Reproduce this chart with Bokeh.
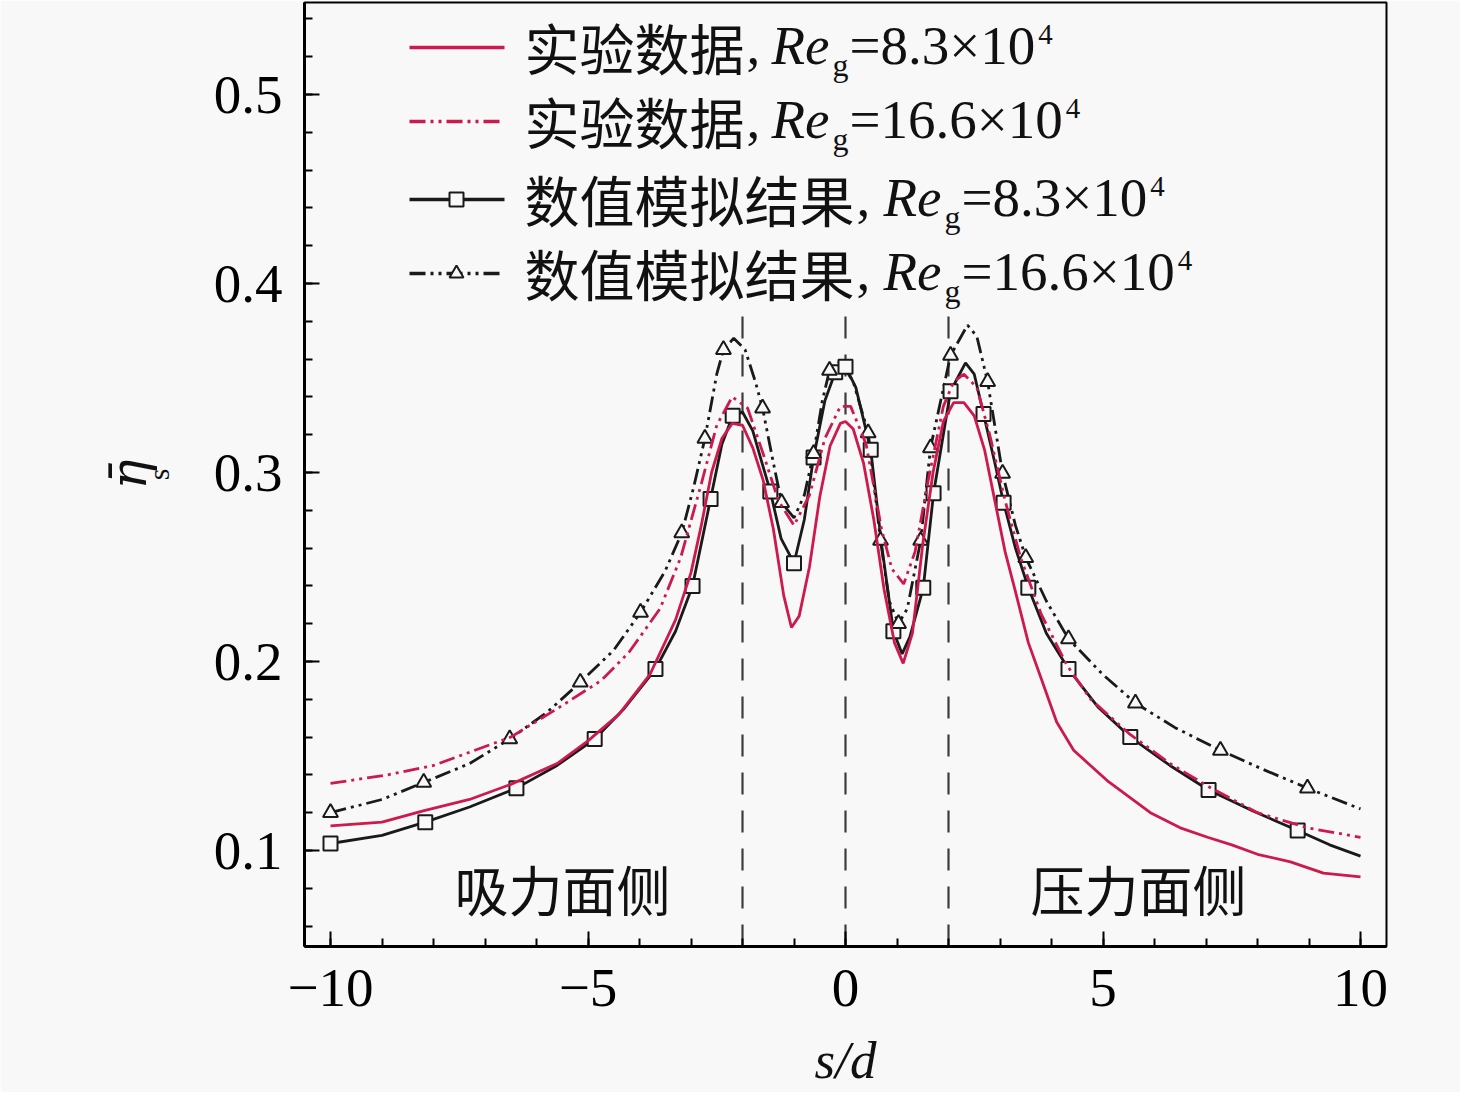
from bokeh.plotting import figure
from bokeh.models import Range1d, FixedTicker, Label, Title
from bokeh.embed import file_html
from bokeh.resources import INLINE

# ---------------- data ----------------
# experiment, Re_g = 8.3e4 (red solid)
exp83_s = [-10, -9.0, -8.2, -7.3, -6.5, -5.6, -5.0, -4.4, -3.8, -3.3, -3.0, -2.8, -2.6, -2.4,
           -2.2, -2.0, -1.8, -1.6, -1.4, -1.2, -1.05, -0.9, -0.7, -0.5, -0.3, -0.1, 0.0, 0.15,
           0.35, 0.55, 0.75, 0.95, 1.12, 1.3, 1.5, 1.7, 1.9, 2.1, 2.3, 2.5, 2.7, 2.9, 3.1, 3.3,
           3.55, 3.8, 4.1, 4.43, 5.08, 5.92, 6.5, 7.03, 7.5, 8.0, 8.64, 9.28, 10]
exp83_eta = [0.113, 0.115, 0.121, 0.127, 0.135, 0.146, 0.158, 0.172, 0.193, 0.222, 0.247, 0.272,
             0.300, 0.318, 0.326, 0.325, 0.313, 0.296, 0.270, 0.235, 0.218, 0.224, 0.250, 0.287,
             0.314, 0.326, 0.327, 0.323, 0.305, 0.275, 0.238, 0.210, 0.199, 0.215, 0.262, 0.300,
             0.327, 0.337, 0.337, 0.330, 0.312, 0.285, 0.258, 0.237, 0.210, 0.191, 0.168, 0.153,
             0.137, 0.120, 0.112, 0.107, 0.103, 0.098, 0.094, 0.088, 0.086]

# experiment, Re_g = 16.6e4 (red dash-dot-dot)
exp166_s = [-10, -8.9, -8.0, -7.4, -6.5, -5.6, -4.74, -4.2, -3.6, -3.2, -2.8, -2.5, -2.2, -1.9,
            -1.6, -1.3, -1.0, -0.7, -0.4, -0.1, 0.1, 0.4, 0.7, 0.9, 1.13, 1.35, 1.6, 1.9, 2.1,
            2.3, 2.55, 2.8, 3.1, 3.4, 3.8, 4.3, 4.76, 5.5, 6.3, 7.1, 8.0, 8.97, 10]
exp166_eta = [0.1355, 0.140, 0.145, 0.151, 0.160, 0.175, 0.190, 0.205, 0.228, 0.255, 0.294,
              0.325, 0.340, 0.334, 0.310, 0.285, 0.272, 0.288, 0.318, 0.335, 0.335, 0.315, 0.270,
              0.249, 0.241, 0.258, 0.295, 0.335, 0.348, 0.352, 0.345, 0.320, 0.285, 0.255,
              0.225, 0.198, 0.180, 0.162, 0.146, 0.133, 0.120, 0.112, 0.107]

# simulation, Re_g = 8.3e4 (black solid, squares)
num83_s = [-10, -9, -8.16, -7.3, -6.39, -5.6, -4.87, -4.3, -3.69, -3.3, -2.97, -2.62, -2.4,
           -2.19, -2.0, -1.8, -1.62, -1.46, -1.25, -1.0, -0.8, -0.62, -0.4, -0.2, 0.0, 0.2,
           0.49, 0.7, 0.93, 1.1, 1.25, 1.51, 1.71, 2.04, 2.33, 2.5, 2.68, 2.9, 3.07, 3.3, 3.55,
           3.9, 4.33, 4.9, 5.53, 6.3, 7.05, 7.9, 8.78, 9.4, 10]
num83_eta = [0.1037, 0.108, 0.115, 0.123, 0.133, 0.145, 0.159, 0.175, 0.196, 0.216, 0.240,
             0.286, 0.315, 0.330, 0.332, 0.322, 0.305, 0.290, 0.265, 0.252, 0.275, 0.308,
             0.338, 0.353, 0.356, 0.345, 0.312, 0.262, 0.216, 0.204, 0.213, 0.239, 0.289,
             0.343, 0.358, 0.352, 0.331, 0.305, 0.284, 0.260, 0.239, 0.215, 0.196, 0.176,
             0.160, 0.145, 0.132, 0.121, 0.1106, 0.103, 0.097]
num83_mark_s = [-10, -8.16, -6.39, -4.87, -3.69, -2.97, -2.62, -2.19, -1.46, -1.0, -0.62, -0.2,
                0.0, 0.49, 0.93, 1.51, 1.71, 2.04, 2.68, 3.07, 3.55, 4.33, 5.53, 7.05, 8.78]
num83_mark_eta = [0.1037, 0.115, 0.133, 0.159, 0.196, 0.240, 0.286, 0.330, 0.290, 0.252, 0.308,
                  0.353, 0.356, 0.312, 0.216, 0.239, 0.289, 0.343, 0.331, 0.284, 0.239, 0.196,
                  0.160, 0.132, 0.1106]

# simulation, Re_g = 16.6e4 (black dash-dot-dot, triangles)
num166_s = [-10, -9, -8.19, -7.3, -6.52, -5.8, -5.15, -4.5, -3.98, -3.5, -3.18, -2.95, -2.73,
            -2.5, -2.37, -2.17, -1.95, -1.75, -1.61, -1.4, -1.24, -1.0, -0.8, -0.62, -0.45,
            -0.31, -0.1, 0.15, 0.44, 0.68, 0.85, 1.03, 1.2, 1.46, 1.65, 2.04, 2.37, 2.55, 2.76,
            3.05, 3.3, 3.5, 3.9, 4.33, 5.0, 5.63, 6.4, 7.28, 8.1, 8.97, 10]
num166_eta = [0.120, 0.127, 0.136, 0.146, 0.159, 0.173, 0.189, 0.206, 0.226, 0.248, 0.268,
              0.292, 0.318, 0.352, 0.365, 0.371, 0.365, 0.348, 0.334, 0.305, 0.284, 0.276,
              0.288, 0.310, 0.338, 0.354, 0.359, 0.348, 0.321, 0.264, 0.232, 0.220, 0.228,
              0.264, 0.313, 0.362, 0.378, 0.372, 0.348, 0.2995, 0.272, 0.255, 0.232, 0.212,
              0.193, 0.178, 0.165, 0.153, 0.143, 0.133, 0.122]
num166_mark_s = [-10, -8.19, -6.52, -5.15, -3.98, -3.18, -2.73, -2.37, -1.61, -1.24, -0.62,
                 -0.31, 0.44, 0.68, 1.03, 1.46, 1.65, 2.04, 2.76, 3.05, 3.5, 4.33, 5.63, 7.28, 8.97]
num166_mark_eta = [0.120, 0.136, 0.159, 0.189, 0.226, 0.268, 0.318, 0.365, 0.334, 0.284, 0.310,
                   0.354, 0.321, 0.264, 0.220, 0.264, 0.313, 0.362, 0.348, 0.2995, 0.255, 0.212,
                   0.178, 0.153, 0.133]

divider_s = [-2, 0, 2]
x_ticks = [-10, -5, 0, 5, 10]
x_tick_labels = ["\u221210", "\u22125", "0", "5", "10"]
y_ticks = [0.1, 0.2, 0.3, 0.4, 0.5]
region_labels = ["吸力面侧", "压力面侧"]
legend_names = ["实验数据", "实验数据", "数值模拟结果", "数值模拟结果"]
legend_re = ["=8.3×10", "=16.6×10", "=8.3×10", "=16.6×10"]

# ---------------- styling ----------------
RED = "#cc1a4c"
BLACK = "#1a1a1a"
BG = "#f8f8f8"
SERIF = "Liberation Serif"
CJK = "Noto Sans CJK SC"
DASHDOT = "16 5 3 5 3 5"

# reference-pixel -> data helpers (layout only)
def X(px):
    return (px - 845) / 51.5

def Y(py):
    return 0.1 + (850 - py) / 1890.0

W, H = 1460, 1092
p = figure(width=W, height=H, output_backend="svg", toolbar_location=None,
           x_range=Range1d(X(304), X(1386)), y_range=Range1d(Y(946), Y(2)),
           min_border_left=304, min_border_right=W - 1386, min_border_top=2,
           min_border_bottom=H - 946)
p.background_fill_color = BG
p.border_fill_color = BG
p.outline_line_color = "black"
p.outline_line_width = 2
p.xgrid.visible = False
p.ygrid.visible = False

for ax in (p.xaxis[0], p.yaxis[0]):
    ax.axis_line_width = 3
    ax.axis_line_color = "black"
    ax.major_tick_in = 15
    ax.major_tick_out = 0
    ax.minor_tick_in = 8
    ax.minor_tick_out = 0
    ax.major_tick_line_width = 2
    ax.minor_tick_line_width = 2
    ax.major_label_text_font = SERIF
    ax.major_label_text_font_size = "55px"
    ax.major_label_text_color = "black"
    ax.axis_label_text_font = SERIF
    ax.axis_label_text_color = "#111111"

p.xaxis.ticker = FixedTicker(ticks=x_ticks, minor_ticks=list(range(-10, 11)))
p.xaxis.major_label_overrides = {t: l for t, l in zip(x_ticks, x_tick_labels)}
p.xaxis.major_label_standoff = 23
p.xaxis.axis_label = "s/d"
p.xaxis.axis_label_text_font_style = "italic"
p.xaxis.axis_label_text_font_size = "53px"
p.xaxis.axis_label_standoff = 22

p.yaxis.ticker = FixedTicker(ticks=y_ticks,
                             minor_ticks=[round(0.06 + 0.02 * i, 2) for i in range(25)])
p.yaxis.major_label_standoff = 22
p.yaxis.axis_label = "s"
p.yaxis.axis_label_text_font_size = "30px"
p.yaxis.axis_label_text_font_style = "normal"
p.yaxis.axis_label_standoff = 36

p.add_layout(Title(text="\u03b7\u0304", text_font="DejaVu Serif", text_font_style="italic",
                   text_font_size="50px", text_color="#111111", align="center",
                   vertical_align="middle", standoff=-40), "left")

# vertical divider lines
p.segment(x0=divider_s, x1=divider_s, y0=[Y(946)] * 3, y1=[Y(310)] * 3,
          line_color="#3c3c3c", line_width=2.2, line_dash="22 16")

# simulation curves
p.line(num166_s, num166_eta, line_color=BLACK, line_width=2.8, line_dash=DASHDOT)
p.line(num83_s, num83_eta, line_color=BLACK, line_width=2.8)
p.scatter(num83_mark_s, num83_mark_eta, marker="square", size=14, fill_color=BG,
          line_color=BLACK, line_width=2)
p.scatter(num166_mark_s, num166_mark_eta, marker="triangle", size=15, fill_color=BG,
          line_color=BLACK, line_width=2)

# experiment curves
p.line(exp166_s, exp166_eta, line_color=RED, line_width=2.8, line_dash=DASHDOT)
p.line(exp83_s, exp83_eta, line_color=RED, line_width=2.8)


def lbl(px, py, text, size, font=SERIF, style="normal", align="left"):
    p.add_layout(Label(x=X(px), y=Y(py), text=text, text_font=font,
                       text_font_size=f"{size}px", text_font_style=style,
                       text_align=align, text_baseline="middle",
                       text_color="#111111"))


# region labels
lbl(562, 888, region_labels[0], 54, font=CJK, align="center")
lbl(1138, 888, region_labels[1], 54, font=CJK, align="center")

# legend
row_y = [45, 119, 197, 271]
re_x = [771, 771, 883, 883]
styles = [(RED, None, None), (RED, DASHDOT, None), (BLACK, None, "square"),
          (BLACK, DASHDOT, "triangle")]
widths_em = {"=8.3×10": 3.378, "=16.6×10": 3.878}
FS = 55
for i in range(4):
    col, dash, mk = styles[i]
    kw = dict(line_color=col, line_width=3.5)
    if dash:
        kw["line_dash"] = dash
    sy = row_y[i] + 2
    p.line([X(409), X(504)], [Y(sy)] * 2, **kw)
    if mk:
        p.scatter([X(456)], [Y(sy)], marker=mk, size=14, fill_color=BG,
                  line_color=BLACK, line_width=2)
    name = legend_names[i]
    cy = row_y[i]
    lbl(524, cy, name, 55, font=CJK)
    lbl(524 + 55 * len(name) + 2, cy, ",", FS)
    rx = re_x[i]
    lbl(rx, cy, "Re", FS, style="italic")
    lbl(rx + 61, cy + 19, "g", 32)
    ex = rx + 78
    lbl(ex, cy, legend_re[i], FS)
    lbl(ex + widths_em[legend_re[i]] * FS + 3, cy - 11, "4", 29)

open("out.html", "w").write(file_html(p, INLINE))
